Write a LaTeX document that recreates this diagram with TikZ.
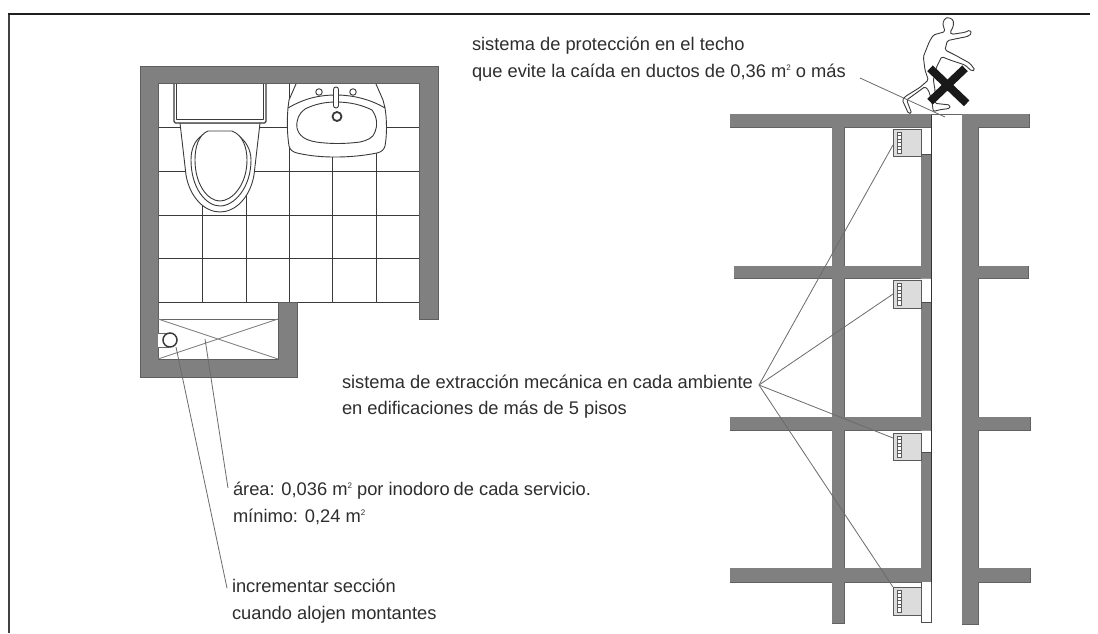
\documentclass[tikz,border=0pt]{standalone}
\usepackage{fontspec}
\setmainfont{Liberation Sans}
\newcommand{\sqm}{\raisebox{0.72ex}{\fontsize{8}{8}\selectfont 2}}
\newcommand{\slabwalls}{%
  (730,114) rectangle (931,127)
  (962,114) rectangle (1029,127)
  (962,114) rectangle (978,624)
  (832,114) rectangle (844,623)
  (734,266) rectangle (931,278)
  (978,266) rectangle (1028,278)
  (730,417) rectangle (931,430)
  (978,417) rectangle (1030,430)
  (730,568) rectangle (931,582)
  (978,568) rectangle (1030,582)
  (921,154) rectangle (931,266)
  (921,302) rectangle (931,417)
  (921,452) rectangle (931,568)
}
\newcommand{\fanbox}[2]{%
  \draw[fanline,fill=fangray] (893,#1) rectangle (921,#2);
  \draw[fanline,fill=white,line width=0.6pt] (897,#1+3) rectangle (901,#2-3);
  \foreach \k in {1,...,5}{\draw[fanline,line width=0.6pt] (897,#1+3+\k*3.5) -- (901,#1+3+\k*3.5);}
}
\definecolor{wallgray}{HTML}{808080}
\definecolor{walledge}{HTML}{5E5E5E}
\definecolor{fangray}{HTML}{DCDCDC}
\definecolor{inkdark}{HTML}{3A3A3A}
\tikzset{
  wallfill/.style={fill=wallgray},
  wallline/.style={draw=walledge,line width=0.9pt},
  gridline/.style={draw=inkdark,line width=0.8pt},
  fixture/.style={draw=inkdark,line width=0.9pt,fill=white,line join=round},
  leader/.style={draw=black!58,line width=0.8pt},
  fanline/.style={draw=black!65,line width=0.8pt},
  lbl/.style={anchor=base west,inner sep=0pt,outer sep=0pt,text=black!82,font=\fontsize{18.3}{20}\selectfont},
}
\begin{document}
\begin{tikzpicture}[x=1pt,y=-1pt]
\useasboundingbox (0,0) rectangle (1098,633);
\fill[white] (0,0) rectangle (1098,633);
% frame
\draw[black!75,line width=2pt] (8.5,633) -- (8.5,14);
\draw[black!88,line width=2pt] (7.5,14) -- (1090,14);
% tile grid
\foreach \yy in {127,171,215,258,302}{\draw[gridline] (158,\yy) -- (419,\yy);}
\foreach \xx in {202,246,332,376}{\draw[gridline] (\xx,150) -- (\xx,302);}
\draw[gridline] (289,83) -- (289,302);
% bath wall
\draw[wallline,wallfill] (140,66) -- (438,66) -- (438,319) -- (419,319) -- (419,83.5) -- (158,83.5) -- (158,359) -- (278,359) -- (278,302) -- (297,302) -- (297,377) -- (140,377) -- cycle;
% duct
\draw[draw=black!60,line width=1pt] (158,319) -- (278,319);
\draw[draw=black!50,line width=0.9pt] (158,319) -- (278,359) (158,359) -- (278,319);
\draw[draw=black!60,line width=0.8pt,fill=white] (158,333) -- (168,333) -- (168,347) -- (158,347);
\node[circle,draw=inkdark,line width=1.5pt,fill=white,minimum size=14pt,inner sep=0pt] (riser) at (170,340) {};
\coordinate (ductmid) at (205,339);
% toilet
\draw[fixture] (180,123) -- (186,175) .. controls (190,198) and (205,212) .. (220,212) .. controls (235,212) and (250,198) .. (254,175) -- (260,123) -- cycle;
\draw[fixture] (204,134) -- (236,134) .. controls (246,140) and (251,150) .. (251,160) .. controls (251,188) and (234,206) .. (220,206) .. controls (206,206) and (191,188) .. (191,160) .. controls (191,150) and (194,140) .. (204,134) -- cycle;
\draw[fixture] (208,131) -- (232,131) .. controls (243,135) and (247,148) .. (247,160) .. controls (247,185) and (232,201) .. (220,201) .. controls (208,201) and (195,185) .. (195,160) .. controls (195,148) and (198,135) .. (208,131) -- cycle;
\draw[fixture,rounded corners=1.5pt,line width=1.1pt] (174,84) -- (174,123) -- (266,123) -- (266,84);
\draw[fixture,line width=1pt] (176.5,84) -- (176.5,119) -- (263.5,119) -- (263.5,84);
% sink
\draw[fixture] (296,84) -- (289,100) -- (288,108) -- (385,108) -- (383,100) -- (376,84);
\draw[fixture] (288,108) .. controls (305,98) and (320,95) .. (336,95) .. controls (352,95) and (370,99) .. (385,108) .. controls (387,120) and (387,135) .. (385,146) .. controls (384,150) and (381,152) .. (377,153) .. controls (362,156) and (348,157) .. (335,157) .. controls (322,157) and (310,156) .. (297,153) .. controls (293,152) and (290,150) .. (289,146) .. controls (287,133) and (287,120) .. (288,108) -- cycle;
\draw[fixture] (305,109) .. controls (315,104) and (325,102) .. (336,102) .. controls (350,102) and (362,105) .. (372,110) .. controls (377,117) and (378,125) .. (375,132) .. controls (373,138) and (368,140) .. (360,142) .. controls (345,144) and (330,144) .. (316,142) .. controls (305,140) and (299,136) .. (297,128) .. controls (296,120) and (299,113) .. (305,109) -- cycle;
\draw[fixture,rounded corners=2.4pt] (333.5,87) rectangle (338.5,108);
\node[circle,fixture,line width=0.9pt,minimum size=6.5pt,inner sep=0pt] (handleL) at (319,92) {};
\node[circle,fixture,line width=0.9pt,minimum size=6.5pt,inner sep=0pt] (handleR) at (353,92) {};
\node[circle,fixture,line width=1.8pt,minimum size=9pt,inner sep=0pt] (drain) at (337,116.5) {};
% building
\draw[wallline] \slabwalls;
\fill[wallfill] \slabwalls;
\fill[white] (921,127.6) rectangle (931,154);
\draw[draw=black!80,line width=0.8pt] (931,114) -- (931,622);
\draw[draw=black!60,line width=0.8pt] (931,114) -- (962,114);
\draw[draw=black!70,line width=0.8pt] (921,154) -- (931,154) (921,302) -- (931,302) (921,452) -- (931,452);
\draw[draw=black!70,line width=0.8pt,fill=white] (921,582) -- (921,622) -- (931,622) -- (931,582);
\fill[white] (921,278.6) rectangle (930.5,301.6) (921,430.6) rectangle (930.5,451.6);
\fanbox{129}{156}
\fanbox{280}{308}
\fanbox{433}{460}
\fanbox{587}{615}
% person
\begin{scope}[shift={(870,0)},x=0.33333pt,y=-0.33333pt]
\draw[fill=white,draw=inkdark,line width=0.9pt,line join=round,rounded corners=1.5pt]
 (235,52) -- (250,60) -- (250,80) -- (240,97) -- (245,103) -- (285,97) -- (300,90) -- (305,100) -- (295,108) -- (290,110) -- (250,118) -- (232,122) -- (225,150) -- (255,165) -- (300,190) -- (315,210) -- (305,213) -- (285,195) -- (240,180) -- (215,170) -- (200,200) -- (190,240) -- (195,270) -- (195,310) -- (240,315) -- (240,325) -- (205,330) -- (190,335) -- (185,300) -- (175,270) -- (165,260) -- (110,300) -- (125,340) -- (115,340) -- (97,300) -- (105,290) -- (150,262) -- (175,240) -- (165,210) -- (160,170) -- (178,125) -- (190,105) -- (225,95) -- (218,70) -- (225,55) -- cycle;
\draw[black!90,line width=8pt] (180,205) -- (290,310) (285,205) -- (180,305);
\end{scope}
% labels
\node[lbl] (tTecho1) at (472,50) {sistema de protección en el techo};
\node[lbl] (tTecho2) at (472,77) {que evite la caída en ductos de 0,36 m\sqm{} o más};
\node[lbl] (tExt1) at (342,388) {sistema de extracción mecánica en cada ambiente};
\node[lbl] (tExt2) at (342,414) {en edificaciones de más de 5 pisos};
\node[lbl] (tArea1) at (233,495) {área: 0,036 m\sqm{} por inodoro\kern4pt de cada servicio.};
\node[lbl] (tArea2) at (233,522) {mínimo: 0,24 m\sqm};
\node[lbl] (tInc1) at (232,592) {incrementar sección};
\node[lbl] (tInc2) at (232,619) {cuando alojen montantes};
% leaders
\coordinate (hub) at (759,385);
\coordinate (fanA) at (893,145);
\coordinate (fanB) at (893,294);
\coordinate (fanC) at (893,438);
\coordinate (fanD) at (893,587);
\coordinate (roofEnd) at (945,117);
\coordinate (roofStart) at (860,78);
\coordinate (areaEnd) at (228,488);
\coordinate (incEnd) at (227,588);
\coordinate (riserEdge) at (176,347);
\draw[leader] (hub) -- (fanA);
\draw[leader] (hub) -- (fanB);
\draw[leader] (hub) -- (fanC);
\draw[leader] (hub) -- (fanD);
\draw[leader] (roofStart) -- (roofEnd);
\draw[leader] (ductmid) -- (areaEnd);
\draw[leader] (riserEdge) -- (incEnd);
\end{tikzpicture}
\end{document}
